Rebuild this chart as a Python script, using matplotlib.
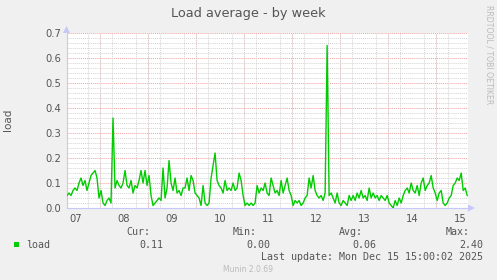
import numpy as np
import matplotlib
matplotlib.use("Agg")
import matplotlib.pyplot as plt
from matplotlib.patches import Polygon
from matplotlib.ticker import MultipleLocator, FixedLocator

# hourly load samples, starting Dec 07 07:30
start_day = 7.3125
load = [
    0.05, 0.06, 0.05, 0.07, 0.08, 0.07, 0.10, 0.12, 0.09, 0.11,
    0.07, 0.10, 0.13, 0.14, 0.15, 0.12, 0.04, 0.07, 0.02, 0.01,
    0.03, 0.04, 0.02, 0.36, 0.08, 0.11, 0.09, 0.08, 0.10, 0.15,
    0.09, 0.08, 0.11, 0.06, 0.09, 0.08, 0.11, 0.15, 0.10, 0.15,
    0.09, 0.13, 0.05, 0.01, 0.02, 0.03, 0.04, 0.03, 0.16, 0.04,
    0.08, 0.19, 0.10, 0.07, 0.12, 0.06, 0.07, 0.05, 0.08, 0.08,
    0.12, 0.07, 0.13, 0.11, 0.06, 0.05, 0.04, 0.01, 0.09, 0.02,
    0.01, 0.02, 0.12, 0.17, 0.22, 0.11, 0.09, 0.08, 0.06, 0.11,
    0.07, 0.08, 0.07, 0.10, 0.07, 0.08, 0.14, 0.11, 0.05, 0.01,
    0.02, 0.01, 0.02, 0.01, 0.02, 0.09, 0.06, 0.08, 0.07, 0.10,
    0.06, 0.05, 0.12, 0.09, 0.06, 0.07, 0.05, 0.11, 0.06, 0.09,
    0.12, 0.07, 0.05, 0.01, 0.03, 0.02, 0.03, 0.01, 0.02, 0.04,
    0.05, 0.12, 0.08, 0.13, 0.07, 0.05, 0.04, 0.05, 0.03, 0.06,
    0.65, 0.05, 0.06, 0.04, 0.02, 0.06, 0.02, 0.01, 0.03, 0.02,
    0.01, 0.05, 0.03, 0.05, 0.03, 0.06, 0.04, 0.07, 0.04, 0.05,
    0.03, 0.08, 0.04, 0.06, 0.04, 0.05, 0.03, 0.05, 0.04, 0.03,
    0.05, 0.02, 0.01, 0.00, 0.03, 0.01, 0.04, 0.02, 0.05, 0.07,
    0.08, 0.06, 0.10, 0.07, 0.06, 0.09, 0.05, 0.10, 0.12, 0.07,
    0.09, 0.10, 0.13, 0.08, 0.06, 0.03, 0.06, 0.07, 0.02, 0.01,
    0.02, 0.04, 0.05, 0.09, 0.10, 0.12, 0.11, 0.14, 0.07, 0.08,
    0.05,
]
day_labels = ["07", "08", "09", "10", "11", "12", "13", "14", "15"]
y_ticks = [0.0, 0.1, 0.2, 0.3, 0.4, 0.5, 0.6, 0.7]
stats_names = ["Cur:", "Min:", "Avg:", "Max:"]
stats_values = ["0.11", "0.00", "0.06", "2.40"]

W, H = 497, 280
BG = "#f0f0f0"
TXT = "#555555"
AXIS = "#c8c8f8"


def fx(px):
    return px / W


def fy(py):
    return 1 - py / H


fig = plt.figure(figsize=(W / 100, H / 100), dpi=100, facecolor=BG)
ax = fig.add_axes([fx(67), fy(208), (468 - 67) / W, (208 - 33) / H])
ax.set_facecolor("white")

t = start_day + np.arange(len(load)) / 24.0
ax.set_xlim(start_day, start_day + 8.35)
ax.set_ylim(0, 0.7)

# grid: minor grey, major red
dot = (0, (1, 1))
ax.xaxis.set_minor_locator(MultipleLocator(0.25))
ax.yaxis.set_minor_locator(MultipleLocator(0.02))
ax.grid(which="minor", color="#d4d4d4", linestyle=dot, linewidth=0.7)
for d in range(8, 16):
    ax.axvline(d, color="#f4a0a0", linestyle=dot, linewidth=0.7, zorder=1)
for v in y_ticks[1:]:
    ax.axhline(v, color="#f4a0a0", linestyle=dot, linewidth=0.7, zorder=1)

ax.plot(t, load, color="#00cc00", linewidth=1.0, zorder=3)

ax.xaxis.set_major_locator(FixedLocator([7.5 + i for i in range(len(day_labels))]))
ax.set_xticklabels(day_labels)
ax.yaxis.set_major_locator(FixedLocator(y_ticks))
ax.set_yticklabels([f"{v:.1f}" for v in y_ticks])
ax.tick_params(which="both", length=0, labelsize=7.2, colors=TXT, pad=4)

for s in ["top", "right"]:
    ax.spines[s].set_visible(False)
for s in ["left", "bottom"]:
    ax.spines[s].set_color(AXIS)
    ax.spines[s].set_linewidth(0.8)

# axis arrow heads (pixel coords)
up_arrow = [(63, 33), (70, 33), (66.5, 26)]
right_arrow = [(468, 204.5), (468, 211.5), (475, 208)]
for pts in (up_arrow, right_arrow):
    fig.patches.append(Polygon([(fx(x), fy(y)) for x, y in pts], closed=True,
                               transform=fig.transFigure, facecolor=AXIS, edgecolor="none"))

fig.text(0.5, fy(13), "Load average - by week", ha="center", va="center", fontsize=9.3, color=TXT)
fig.text(fx(8), fy(120), "load", rotation=90, ha="center", va="center", fontsize=7.5, color=TXT)
fig.text(fx(489), fy(5), "RRDTOOL / TOBI OETIKER", rotation=270, ha="center", va="top",
         fontsize=5.6, color="#bbbbbb")

# legend
mono = "DejaVu Sans Mono"
name_right = [150, 257, 363, 470]
val_right = [163, 270, 376, 483]
for name, x in zip(stats_names, name_right):
    fig.text(fx(x), fy(232), name, ha="right", va="center", fontsize=7.2, family=mono, color=TXT)
for val, x in zip(stats_values, val_right):
    fig.text(fx(x), fy(245), val, ha="right", va="center", fontsize=7.2, family=mono, color=TXT)
fig.patches.append(plt.Rectangle((fx(14), fy(247)), 5 / W, 5 / H, transform=fig.transFigure,
                                 facecolor="#00cc00", edgecolor="none"))
fig.text(fx(26), fy(245), "load", ha="left", va="center", fontsize=7.2, family=mono, color=TXT)
fig.text(fx(483), fy(257), "Last update: Mon Dec 15 15:00:02 2025", ha="right", va="center",
         fontsize=7.2, family=mono, color=TXT)
fig.text(fx(248), fy(269), "Munin 2.0.69", ha="center", va="center", fontsize=5.5, color="#bbbbbb")

fig.savefig("out.png", dpi=100, facecolor=BG)
